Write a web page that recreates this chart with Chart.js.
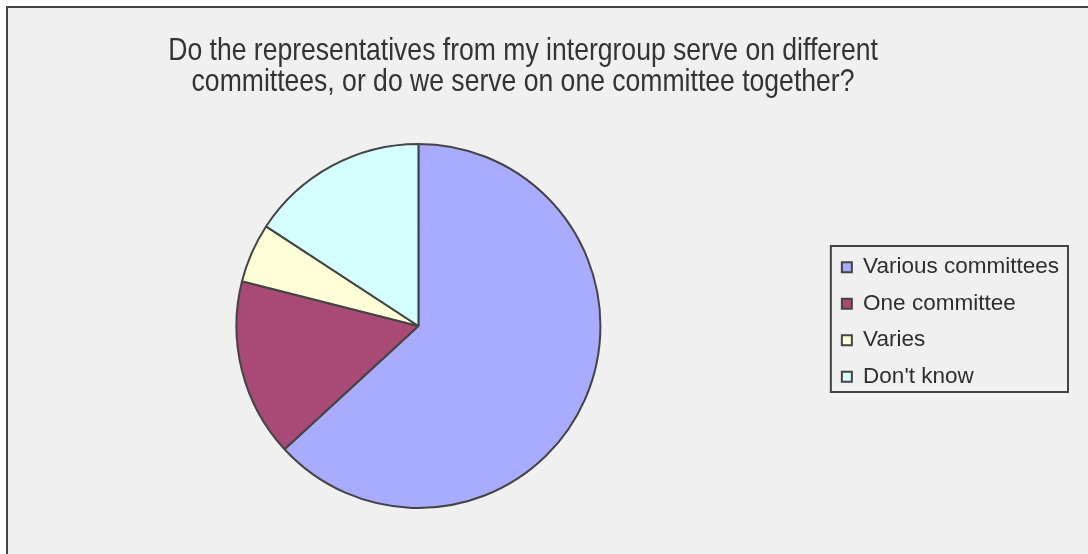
<!DOCTYPE html>
<html>
<head>
<meta charset="utf-8">
<script src="https://cdn.jsdelivr.net/npm/chart.js@4"></script>
<style>
	body { margin: 0; background: #ffffff; overflow: hidden; }
	#quadro { position: absolute; left: 6px; top: 6px; width: 1100px; height: 560px; background: #f0f0f0; border-left: 2px solid #444; border-top: 2px solid #444; }
	#grafico { position: absolute; left: 0; top: 0; }
</style>
</head>
<body>
<div id="quadro"></div>
<canvas id="grafico" width="1088" height="554"></canvas>
<script>
	const titulo = ["Do the representatives from my intergroup serve on different", "committees, or do we serve on one committee together?"];
	const categorias = ["Various committees", "One committee", "Varies", "Don't know"];
	const respostas = [12, 3, 1, 3];
	const cores = ["#a9abff", "#a84a75", "#ffffd7", "#d5ffff"];

	// titulo desenhado a mao (fonte alta e estreita), centrado em x=523
	const tituloPlugin = {
		id: "tituloPlugin",
		afterDraw(chart) {
			const ctx = chart.ctx;
			ctx.save();
			ctx.translate(523, 0);
			ctx.scale(0.83, 1);
			ctx.font = "32px 'Liberation Sans'";
			ctx.fillStyle = "#333333";
			ctx.textAlign = "center";
			ctx.textBaseline = "alphabetic";
			ctx.fillText(titulo[0], 0, 60);
			ctx.fillText(titulo[1], 0, 91);
			ctx.restore();
		}
	};

	// sobe a legenda um pouco e desenha a caixa com borda em volta
	const caixaLegenda = {
		id: "caixaLegenda",
		afterLayout(chart) {
			const leg = chart.legend;
			leg.top -= 4;
			leg.bottom -= 4;
			leg.left -= 3;
			leg.right -= 3;
		},
		afterDraw(chart) {
			const boxes = chart.legend.legendHitBoxes;
			let l = Infinity, r = -Infinity, t = Infinity, b = -Infinity;
			boxes.forEach(h => {
				l = Math.min(l, h.left); r = Math.max(r, h.left + h.width);
				t = Math.min(t, h.top); b = Math.max(b, h.top + h.height);
			});
			const ctx = chart.ctx;
			ctx.save();
			ctx.strokeStyle = "#444444";
			ctx.lineWidth = 2;
			ctx.strokeRect(l - 11, t - 10, r - l + 20, b - t + 14);
			ctx.restore();
		}
	};

	new Chart("grafico", {
		type: "pie",
		data: {
			labels: categorias,
			datasets: [{
				data: respostas,
				backgroundColor: cores,
				borderColor: "#444444",
				borderWidth: 2
			}]
		},
		options: {
			responsive: false,
			animation: false,
			layout: { padding: { left: 6, right: 16, top: 143, bottom: 45 } },
			plugins: {
				tooltip: { enabled: false },
				legend: {
					position: "right",
					labels: {
						color: "#2e2e2e",
						font: { family: "'Liberation Sans'", size: 22.5 },
						boxWidth: 10,
						boxHeight: 10,
						padding: 14
					}
				}
			}
		},
		plugins: [tituloPlugin, caixaLegenda]
	});
</script>
</body>
</html>
